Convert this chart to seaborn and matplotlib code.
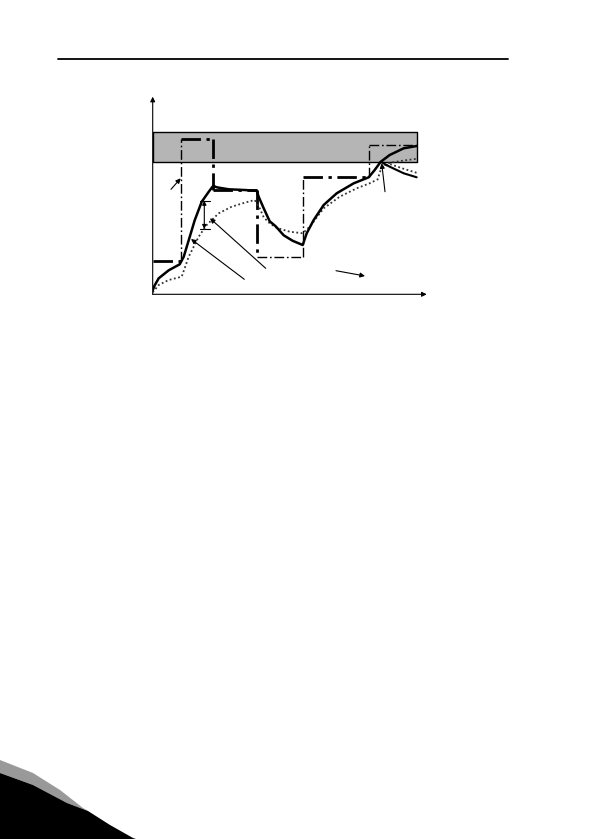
import matplotlib
matplotlib.use("Agg")
import matplotlib.pyplot as plt
from matplotlib.patches import Polygon
import seaborn as sns

sns.set_theme(style="white")

# limit / load reference (dash-dot step line)
limit_t = [0, 28, 28, 60, 60, 104, 104, 150, 150, 216, 216, 264]
limit_v = [33, 33, 155, 155, 104, 104, 37.5, 37.5, 117.5, 117.5, 149.5, 149.5]

# measured motor temperature (solid)
temp_t = [0, 2, 6, 16, 27, 31, 36, 42, 49, 56, 60.5, 64, 76, 92, 104, 106, 111, 117,
          123, 131, 140, 150, 154, 161, 171, 184, 201, 216, 222, 228, 237, 251, 264]
temp_v = [4, 9, 16, 24, 30, 37.5, 54, 74, 92.5, 102.5, 108.5, 107, 105, 104.3, 103.5,
          97.5, 86, 73, 68, 59, 53.5, 49.3, 61, 74.3, 89.3, 101, 111, 117, 124.3, 132.5,
          139.3, 146, 148.3]
temp_drop_t = [228, 237, 251, 264]
temp_drop_v = [132.5, 127.6, 121, 117]

# model / estimated temperature (dotted)
model_t = [0, 6, 16, 29, 36, 46, 54, 66, 79, 92, 102, 107, 111, 117, 124, 137, 150,
           157, 171, 187, 204, 217, 225, 229, 237, 251, 264]
model_v = [2, 9.3, 14.3, 17.6, 37.6, 57.6, 69.3, 81, 87.6, 91.6, 94.3, 86, 77, 71,
           66.5, 62.6, 61, 67.6, 86, 97.6, 106, 111, 115, 127.6, 131.5, 133.8, 135.5]
model_drop_t = [229, 238, 251, 264]
model_drop_v = [127.6, 130, 125.5, 121.5]

band_lo, band_hi = 132, 162

# pen width for each segment of the dash-dot line
limit_widths = [2.0, 1.0, 2.0, 2.0, 2.0, 2.0, 1.0, 1.0, 2.0, 1.0, 1.0]

fig = plt.figure(figsize=(5.95, 8.39), dpi=100)

# page decoration: header rule and corner swoosh
bg = fig.add_axes([0, 0, 1, 1], zorder=-1)
bg.set_xlim(0, 595)
bg.set_ylim(839, 0)
bg.axis("off")
bg.plot([58, 508], [58.5, 58.5], color="black", lw=1.3)
bg.add_patch(Polygon([(0, 760), (33, 773), (60, 790), (83, 808), (88, 811), (67, 803),
                      (33, 785), (0, 773)], closed=True, color="#999999", lw=0))
bg.add_patch(Polygon([(0, 773), (33, 785), (67, 803), (88, 811), (110, 825), (133, 838),
                      (136, 839), (0, 839)], closed=True, color="black", lw=0))

ax = fig.add_axes([152.7 / 595, 1 - 294.3 / 839, 277 / 595, 198.3 / 839])
ax.set_xlim(0, 277)
ax.set_ylim(0, 198.3)
ax.axis("off")

ax.fill_between([0, 264], band_lo, band_hi, color="#b5b5b5", edgecolor="black", lw=1.0, zorder=1)

for i, w in enumerate(limit_widths):
    sns.lineplot(x=limit_t[i:i + 2], y=limit_v[i:i + 2], sort=False, estimator=None, ax=ax,
                 color="black", lw=w, linestyle=(0, (7, 2, 1.2, 2)), zorder=3,
                 solid_capstyle="butt", dash_capstyle="butt")
sns.lineplot(x=model_t, y=model_v, sort=False, estimator=None, ax=ax, color="#333333",
             lw=1.3, linestyle=(0, (1, 1.4)), zorder=3)
sns.lineplot(x=model_drop_t, y=model_drop_v, sort=False, estimator=None, ax=ax,
             color="#333333", lw=1.3, linestyle=(0, (1, 1.4)), zorder=3)
sns.lineplot(x=temp_t, y=temp_v, sort=False, estimator=None, ax=ax, color="black",
             lw=1.8, zorder=4)
sns.lineplot(x=temp_drop_t, y=temp_drop_v, sort=False, estimator=None, ax=ax,
             color="black", lw=1.5, zorder=4)

arrow = dict(arrowstyle="-|>", color="black", lw=0.8, mutation_scale=7, shrinkA=0, shrinkB=0)
# axes
ax.annotate("", xy=(0, 197.6), xytext=(0, 0), arrowprops=arrow, annotation_clip=False)
ax.annotate("", xy=(274, 0), xytext=(0, 0), arrowprops=arrow, annotation_clip=False)
# pointers
ax.annotate("", xy=(28, 116), xytext=(18.3, 105), arrowprops=arrow)
ax.annotate("", xy=(38.3, 55.3), xytext=(91.6, 15), arrowprops=arrow)
ax.annotate("", xy=(57.3, 76), xytext=(113, 26), arrowprops=arrow)
ax.annotate("", xy=(212.3, 18.3), xytext=(183.3, 23.6), arrowprops=arrow)
ax.annotate("", xy=(229, 131), xytext=(232.3, 102.6), arrowprops=arrow)
# difference marker
ax.annotate("", xy=(51.6, 93.6), xytext=(51.6, 65.3),
            arrowprops=dict(arrowstyle="<|-|>", color="black", lw=0.8, mutation_scale=6,
                            shrinkA=0, shrinkB=0))
ax.plot([47.3, 57.3], [93.6, 93.6], color="black", lw=0.8)
ax.plot([47.3, 57.3], [65.3, 65.3], color="black", lw=0.8)

fig.savefig("out.png", dpi=100)
